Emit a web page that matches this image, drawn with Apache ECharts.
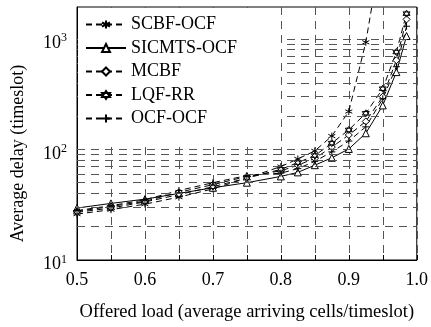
<!DOCTYPE html>
<html>
<head>
<meta charset="utf-8">
<script src="https://cdn.jsdelivr.net/npm/echarts@6/dist/echarts.min.js"></script>
<style>
  html, body { margin: 0; padding: 0; background: #fff; }
  #chart { width: 431px; height: 327px; }
</style>
</head>
<body>
<div id="chart"></div>
<script>
// offered load (x) for every measured point
const loads = [0.5, 0.55, 0.6, 0.65, 0.7, 0.75, 0.8, 0.825, 0.85, 0.875, 0.9, 0.925, 0.95, 0.97, 0.985];

// average delay (timeslot)
const scbfOcf   = [26, 28.5, 32, 37, 44, 55, 70, 82, 97, 132, 220, 930, 7500];
const sicmtsOcf = [29.5, 32.5, 35.5, 40, 45, 50, 57, 62, 72, 84, 101, 140, 250, 500, 1060];
const mcbf      = [27.5, 30.5, 34, 41, 48, 57, 64, 72, 83, 105, 135, 179, 300, 640, 1500];
const lqfRr     = [27, 29.5, 33.5, 39, 46, 55, 66, 76, 88, 114, 150, 212, 354, 760, 1690];
const ocfOcf    = [28, 31, 35, 42.5, 50, 58, 61, 67, 78, 95, 119, 160, 287, 560, 1300];

const seriesNames = ['SCBF-OCF', 'SICMTS-OCF', 'MCBF', 'LQF-RR', 'OCF-OCF'];

// dashed reference lines on the log axis
const hGrid = [20, 30, 40, 50, 60, 70, 80, 90, 100, 200, 300, 400, 500, 600, 700, 800, 900, 1000];

const FONT = 'Liberation Serif';
const pair = vals => vals.map((v, i) => [loads[i], v]);

const chart = echarts.init(document.getElementById('chart'));

function lineSeries(name, vals, symbol, dashed, fill) {
  return {
    name: name,
    type: 'line',
    data: pair(vals),
    symbol: symbol,
    symbolSize: 7,
    z: 3,
    lineStyle: { color: '#000', width: 1, type: dashed ? [6, 4] : 'solid' },
    itemStyle: { color: fill, borderColor: '#000', borderWidth: 1 }
  };
}

const option = {
  animation: false,
  backgroundColor: '#fff',
  grid: { left: 77, right: 13, top: 7, bottom: 64, show: true, borderColor: '#000', borderWidth: 1 },
  // white patch behind the legend, hides the grid there
  graphic: [{
    type: 'rect',
    zlevel: 1,
    z: 0,
    left: 78, top: 8,
    shape: { width: 203, height: 138 },
    style: { fill: '#fff' }
  }],
  legend: {
    data: seriesNames,
    orient: 'vertical',
    left: 77,
    top: 7.5,
    zlevel: 1,
    z: 10,
    padding: [8, 10, 8, 8],
    itemWidth: 40,
    itemHeight: 10,
    itemGap: 5.5,
    textStyle: { fontFamily: FONT, fontSize: 18, color: '#000' }
  },
  xAxis: {
    type: 'value',
    min: 0.5,
    max: 1.0,
    interval: 0.05,
    name: 'Offered load (average arriving cells/timeslot)',
    nameLocation: 'middle',
    nameGap: 43,
    nameTextStyle: { fontFamily: FONT, fontSize: 18.5, color: '#000' },
    axisLine: { lineStyle: { color: '#000' } },
    axisTick: { inside: true, length: 5, lineStyle: { color: '#000' } },
    axisLabel: {
      fontFamily: FONT, fontSize: 18, color: '#000', margin: 11,
      formatter: v => (Math.round(v * 100) % 10 === 0 ? v.toFixed(1) : '')
    },
    splitLine: { show: true, lineStyle: { color: '#555', type: [8, 6], width: 1 } }
  },
  yAxis: {
    type: 'log',
    logBase: 10,
    min: 10,
    max: 1940,
    name: 'Average delay (timeslot)',
    nameLocation: 'middle',
    nameGap: 50,
    nameTextStyle: { fontFamily: FONT, fontSize: 18, color: '#000', padding: [0, 40, 0, 0] },
    axisLine: { lineStyle: { color: '#000' } },
    axisTick: { inside: true, length: 6, lineStyle: { color: '#000' } },
    axisLabel: {
      margin: 10,
      showMaxLabel: false,
      formatter: v => {
        const e = Math.log10(v);
        if (Math.abs(e - Math.round(e)) > 1e-6) return '';
        return '{b|10}{s|' + Math.round(e) + '}';
      },
      rich: {
        b: { fontFamily: FONT, fontSize: 18, color: '#000', padding: [9, 0, 0, 0] },
        s: { fontFamily: FONT, fontSize: 12, color: '#000', padding: [0, 0, 1, 0] }
      }
    },
    splitLine: { show: false }
  },
  series: [
    {
      name: 'grid',
      type: 'line',
      data: [],
      z: 1,
      silent: true,
      markLine: {
        silent: true,
        symbol: 'none',
        label: { show: false },
        lineStyle: { color: '#555', type: [8, 6], width: 1 },
        data: hGrid.map(v => ({ yAxis: v }))
      }
    },
    lineSeries('SCBF-OCF', scbfOcf, 'path://M5,0L5,10M0.67,2.5L9.33,7.5M0.67,7.5L9.33,2.5', true, '#000'),
    lineSeries('SICMTS-OCF', sicmtsOcf, 'triangle', false, '#fff'),
    lineSeries('MCBF', mcbf, 'path://M5,0L10,5L5,10L0,5Z', true, '#fff'),
    lineSeries('LQF-RR', lqfRr, 'path://M5,0L9.33,7.5L0.67,7.5ZM5,10L0.67,2.5L9.33,2.5Z', true, '#fff'),
    lineSeries('OCF-OCF', ocfOcf, 'path://M5,0L5,10M0,5L10,5', true, '#000')
  ]
};

chart.setOption(option);
</script>
</body>
</html>
